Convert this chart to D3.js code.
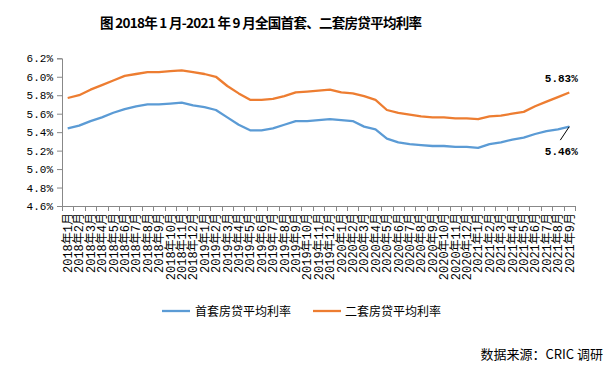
<!DOCTYPE html>
<html><head><meta charset="utf-8">
<script src="https://cdn.jsdelivr.net/npm/d3@7"></script>
<style>body{margin:0;background:#fff}svg{display:block}</style>
</head><body>
<svg id="c" width="611" height="367"></svg>
<script>
const months = [];
for (let y = 2018; y <= 2021; y++) for (let m = 1; m <= 12; m++) { if (y === 2021 && m > 9) break; months.push(y + "年" + m + "月"); }
const firstHome = [5.44,5.47,5.52,5.56,5.61,5.65,5.68,5.70,5.70,5.71,5.72,5.69,5.67,5.64,5.56,5.48,5.42,5.42,5.44,5.48,5.52,5.52,5.53,5.54,5.53,5.52,5.46,5.43,5.33,5.29,5.27,5.26,5.25,5.25,5.24,5.24,5.23,5.27,5.29,5.32,5.34,5.38,5.41,5.43,5.46];
const secondHome = [5.77,5.80,5.86,5.91,5.96,6.01,6.03,6.05,6.05,6.06,6.07,6.05,6.03,6.00,5.90,5.82,5.75,5.75,5.76,5.79,5.83,5.84,5.85,5.86,5.83,5.82,5.79,5.75,5.64,5.61,5.59,5.57,5.56,5.56,5.55,5.55,5.54,5.57,5.58,5.60,5.62,5.68,5.73,5.78,5.83];
const yTicks = [4.6,4.8,5.0,5.2,5.4,5.6,5.8,6.0,6.2];
const seriesNames = ["首套房贷平均利率","二套房贷平均利率"];
const colors = ["#5B9BD5","#ED7D31"];

const svg = d3.select("#c");
const L = 62, R = 575, T = 58.3, B = 206;
const x = d3.scaleBand().domain(months).range([L, R]);
const y = d3.scaleLinear().domain([4.6, 6.2]).range([B, T]);
const mono = "'Liberation Mono','DejaVu Sans Mono',monospace";
const cjk = "'Noto Sans CJK SC','Noto Sans',sans-serif";

svg.append("text").attr("x", 100).attr("y", 28)
  .attr("textLength", 322).attr("lengthAdjust", "spacing")
  .attr("font-family", cjk).attr("font-size", 13.5).attr("font-weight", "bold")
  .attr("fill", "#000").text("图 2018年 1 月-2021 年 9 月全国首套、二套房贷平均利率");

// y axis
const yAxis = svg.append("g").attr("transform", `translate(${L},0)`)
  .call(d3.axisLeft(y).tickValues(yTicks).tickSize(5).tickPadding(4).tickFormat(d => d.toFixed(1) + "%"));
yAxis.select(".domain").attr("stroke", "#888");
yAxis.selectAll(".tick line").attr("stroke", "#888");
yAxis.selectAll("text").attr("font-family", mono).attr("font-size", 11).attr("fill", "#000");

// x axis
const xg = svg.append("g");
xg.append("line").attr("x1", L).attr("x2", R).attr("y1", B + 0.5).attr("y2", B + 0.5).attr("stroke", "#888");
const bounds = months.map(m => x(m)).concat([x(months[months.length - 1]) + x.bandwidth()]);
xg.selectAll("line.t").data(bounds).enter().append("line").attr("class", "t")
  .attr("x1", d => Math.round(d) + 0.5).attr("x2", d => Math.round(d) + 0.5)
  .attr("y1", B).attr("y2", B + 5).attr("stroke", "#888");
xg.selectAll("text").data(months).enter().append("text")
  .attr("transform", d => `translate(${x(d) + x.bandwidth() / 2},213) rotate(-90)`)
  .attr("text-anchor", "end").attr("dy", "0.35em")
  .attr("font-family", mono + "," + cjk).attr("font-size", 12).attr("fill", "#000")
  .text(d => d);

// lines
const line = d3.line().x((d, i) => x(months[i]) + x.bandwidth() / 2).y(d => y(d));
[firstHome, secondHome].forEach((s, k) => {
  svg.append("path").datum(s).attr("d", line).attr("fill", "none")
    .attr("stroke", colors[k]).attr("stroke-width", 2.3).attr("stroke-linejoin", "round");
});

// data labels
const lx = x(months[44]) + x.bandwidth() / 2;
svg.append("text").attr("x", lx - 8).attr("y", y(secondHome[44]) - 10).attr("text-anchor", "middle")
  .attr("font-family", mono).attr("font-size", 11).attr("font-weight", "bold").text(secondHome[44].toFixed(2) + "%");
svg.append("line").attr("x1", lx).attr("y1", y(firstHome[44])).attr("x2", lx - 9).attr("y2", y(firstHome[44]) + 13.5)
  .attr("stroke", "#000").attr("stroke-width", 1);
svg.append("text").attr("x", lx - 8).attr("y", y(firstHome[44]) + 28).attr("text-anchor", "middle")
  .attr("font-family", mono).attr("font-size", 11).attr("font-weight", "bold").text(firstHome[44].toFixed(2) + "%");

// legend
const lg = svg.append("g");
[[162, 195], [313, 345]].forEach((p, k) => {
  lg.append("line").attr("x1", p[0]).attr("x2", p[0] + 28).attr("y1", 311).attr("y2", 311)
    .attr("stroke", colors[k]).attr("stroke-width", 2.3);
  lg.append("text").attr("x", p[1]).attr("y", 315.5).attr("font-family", cjk).attr("font-size", 12)
    .attr("fill", "#000").text(seriesNames[k]);
});

svg.append("text").attr("x", 603).attr("y", 359).attr("text-anchor", "end")
  .attr("font-family", cjk).attr("font-size", 13).attr("fill", "#000").text("数据来源：CRIC 调研");
</script>
</body></html>
